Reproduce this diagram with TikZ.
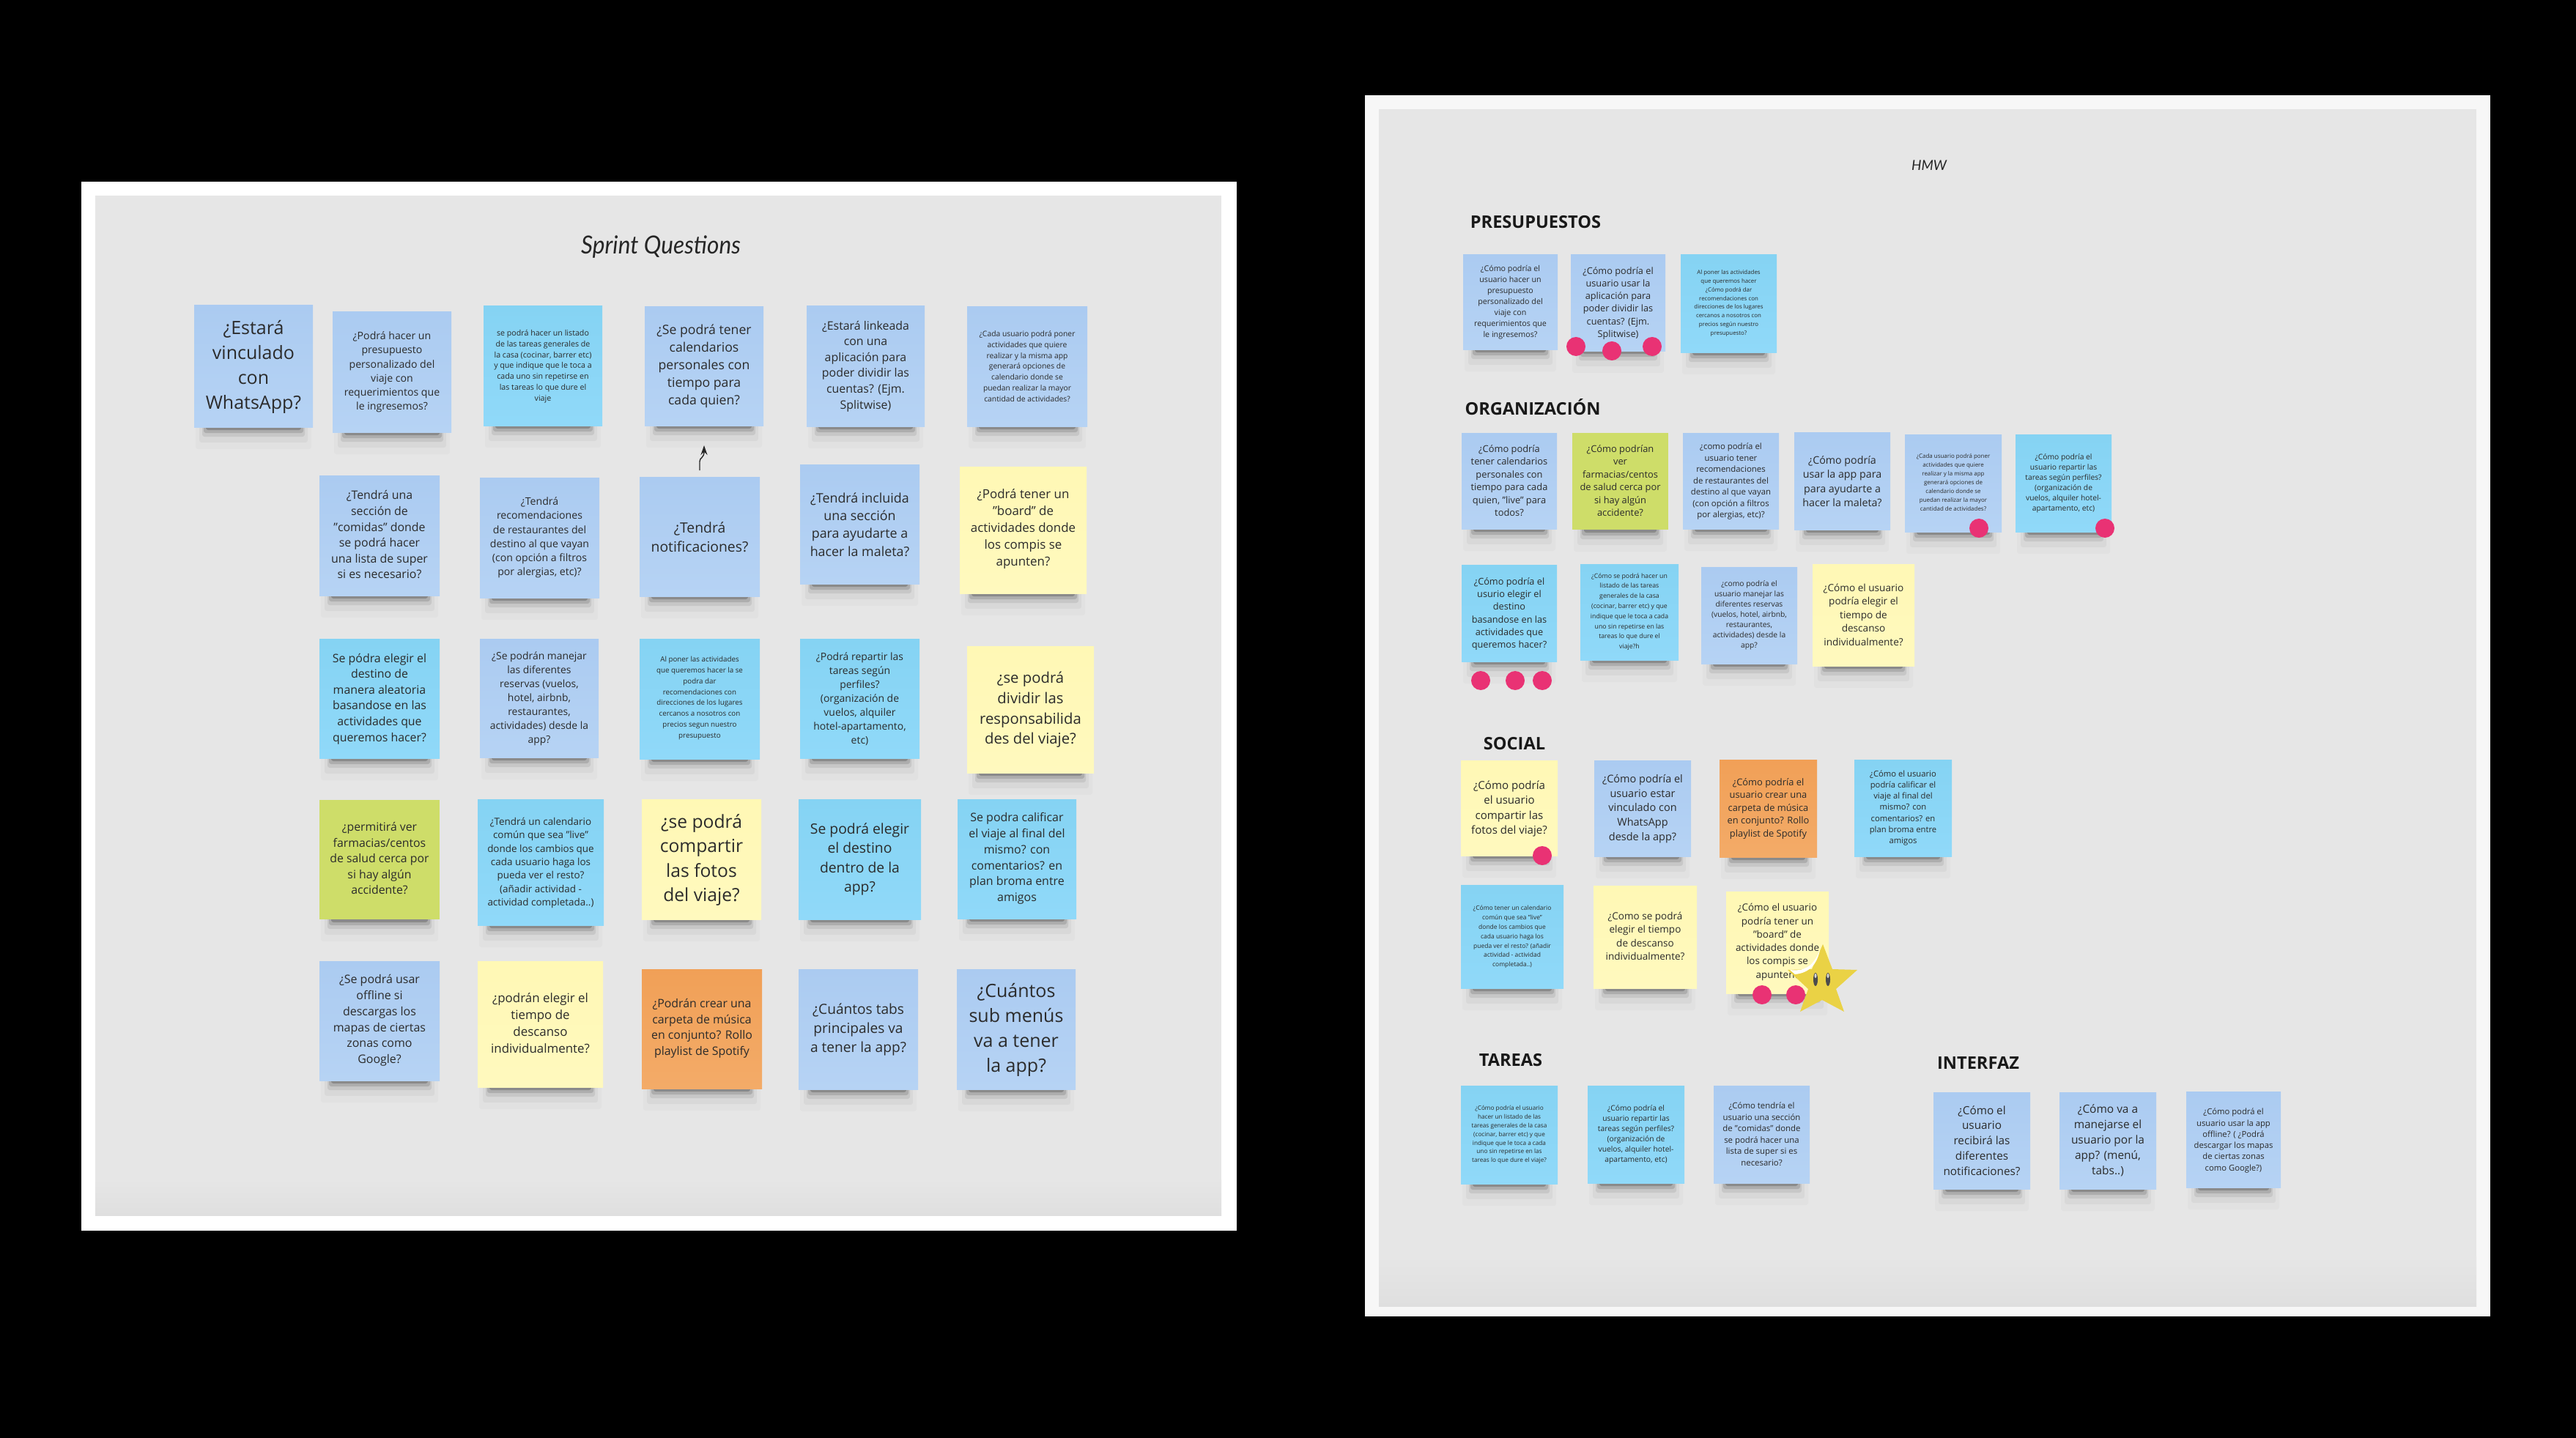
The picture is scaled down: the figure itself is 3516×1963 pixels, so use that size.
\documentclass[tikz,border=0pt]{standalone}
\usepackage{fontspec}
\setmainfont{Open Sans}
\newfontfamily\handfont{Lato}
\usetikzlibrary{arrows.meta}
\definecolor{txt}{HTML}{2B2B2B}
\definecolor{board}{HTML}{E6E6E6}
\definecolor{boardlow}{HTML}{DFDFDF}
\definecolor{dotc}{HTML}{E93274}
\definecolor{starc}{HTML}{EAD245}
\definecolor{bluetop}{HTML}{ABCBF1}
\definecolor{bluebot}{HTML}{B6D3F4}
\definecolor{cyantop}{HTML}{85D3F3}
\definecolor{cyanbot}{HTML}{90D9F9}
\definecolor{yeltop}{HTML}{FFF8B5}
\definecolor{yelbot}{HTML}{FFF9BE}
\definecolor{greenc}{HTML}{CEDD69}
\definecolor{ortop}{HTML}{F1A057}
\definecolor{orbot}{HTML}{F3AB68}
\tikzset{
  stkbase/.style={rectangle,inner sep=0pt,outer sep=0pt},
  bl/.style={stkbase,top color=bluetop,bottom color=bluebot},
  cy/.style={stkbase,top color=cyantop,bottom color=cyanbot},
  ye/.style={stkbase,top color=yeltop,bottom color=yelbot},
  gr/.style={stkbase,fill=greenc},
  or/.style={stkbase,top color=ortop,bottom color=orbot},
  stktext/.style={align=center,inner sep=0pt,text=txt},
  dotn/.style={circle,fill=dotc,minimum size=13pt,inner sep=0pt},
  heading/.style={font=\bfseries\fontsize{11.8pt}{14pt}\selectfont,text=black!90,inner sep=0pt},
}
\def\stkfs{1}
% name, x0,y0,x1,y1, colour, line pitch, text centre y, text
\newcommand{\stk}[9]{%
  \foreach \ins/\hh/\op in {2/30/0.02,7/21/0.04,11/13/0.08,13/8/0.13,16/4/0.2}{%
    \fill[black,opacity=\op,rounded corners=1.5pt] (#2+\ins,#5-3) rectangle (#4-\ins,#5+\hh);}%
  \pgfmathsetmacro\stkw{(#4-#2)*0.5}%
  \pgfmathsetmacro\stkh{(#5-#3)*0.5}%
  \pgfmathsetmacro\stkf{#7*0.5/1.36*\stkfs}%
  \pgfmathsetmacro\stkl{#7*0.5}%
  \node[#6,minimum width=\stkw pt,minimum height=\stkh pt] (#1) at ({(#2+#4)/2},{(#3+#5)/2}) {};%
  \node[stktext,font=\fontsize{\stkf pt}{\stkl pt}\selectfont] (#1-t) at ({(#2+#4)/2},#8+2) {#9};%
  \def\stkfs{1}%
}
\begin{document}
\begin{tikzpicture}[x=0.5pt,y=-0.5pt]
\useasboundingbox (0,0) rectangle (3516,1963);
\fill[black] (0,0) rectangle (3516,1963);
% boards
\fill[white] (111,248) rectangle (1688,1680);
\fill[board] (130,267) rectangle (1667,1659);
\shade[top color=board,bottom color=boardlow] (130,1610) rectangle (1667,1659);
\fill[white!97!black] (1863,130) rectangle (3399,1797);
\fill[board] (1882,149) rectangle (3380,1783);
\shade[top color=board,bottom color=boardlow] (1882,1715) rectangle (3380,1783);
% titles
\node[font=\handfont\itshape\fontsize{17pt}{20pt}\selectfont,text=black!85,inner sep=0pt,xscale=0.93] (title1) at (902,337) {Sprint Questions};
\node[font=\handfont\itshape\fontsize{9.5pt}{12pt}\selectfont,text=black!85,inner sep=0pt,xscale=1.0] (title2) at (2633,226) {HMW};
% ---- left board
\stk{a1}{265}{417}{427}{583}{bl}{34}{499}{¿Estará\\vinculado\\con\\WhatsApp?}
\stk{a2}{454}{426}{616}{590}{bl}{19.2}{506}{¿Podrá hacer un\\presupuesto\\personalizado del\\viaje con\\requerimientos que\\le ingresemos?}
\def\stkfs{0.98}\stk{a3}{660}{418}{822}{581}{cy}{14.8}{498}{se podrá hacer un listado\\de las tareas generales  de\\la casa (cocinar, barrer etc)\\y que indique que le toca a\\cada uno sin repetirse en\\las tareas lo que dure el\\viaje}
\stk{a4}{880}{419}{1042}{581}{bl}{24}{498}{¿Se podrá tener\\calendarios\\personales con\\tiempo para\\cada quien?}
\stk{a5}{1101}{418}{1262}{582}{bl}{21.6}{498}{¿Estará linkeada\\con una\\aplicación para\\poder dividir las\\cuentas? (Ejm.\\Splitwise)}
\def\stkfs{0.95}\stk{a6}{1320}{419}{1484}{582}{bl}{14.8}{498}{¿Cada usuario podrá poner\\actividades que quiere\\realizar y la misma app\\generará opciones de\\calendario donde se\\puedan realizar la mayor\\cantidad de actividades?}
\stk{b1}{436}{649}{600}{813}{bl}{21.6}{728}{¿Tendrá una\\sección de\\"comidas" donde\\se podrá hacer\\una lista de super\\si es necesario?}
\stk{b2}{655}{652}{818}{816}{bl}{19.2}{732}{¿Tendrá\\recomendaciones\\de restaurantes del\\destino al que vayan\\(con opción a filtros\\por alergias, etc)?}
\stk{b3}{873}{651}{1037}{814}{bl}{26.3}{731}{¿Tendrá\\notificaciones?}
\stk{b4}{1092}{634}{1255}{797}{bl}{24.3}{714}{¿Tendrá incluida\\una sección\\para ayudarte a\\hacer la maleta?}
\stk{b5}{1310}{637}{1483}{810}{ye}{23}{720}{¿Podrá tener un\\"board" de\\actividades donde\\los compis se\\apunten?}
\stk{c1}{436}{872}{600}{1035}{cy}{21.6}{952}{Se pódra elegir el\\destino de\\manera aleatoria\\basandose en las\\actividades que\\queremos hacer?}
\stk{c2}{655}{872}{817}{1034}{bl}{18.9}{952}{¿Se podrán manejar\\las diferentes\\reservas (vuelos,\\hotel, airbnb,\\restaurantes,\\actividades) desde la\\app?}
\def\stkfs{0.9}\stk{c3}{873}{872}{1037}{1036}{cy}{14.8}{951}{Al poner las actividades\\que queremos hacer la se\\podra dar\\recomendaciones con\\direcciones de los lugares\\cercanos a nosotros con\\precios segun nuestro\\presupuesto}
\stk{c4}{1092}{872}{1255}{1035}{cy}{19}{952}{¿Podrá repartir las\\tareas según\\perfiles?\\(organización de\\vuelos, alquiler\\hotel-apartamento,\\etc)}
\stk{c5}{1320}{882}{1493}{1055}{ye}{27.6}{967}{¿se podrá\\dividir las\\responsabilida\\des del viaje?}
\stk{d1}{436}{1092}{600}{1255}{gr}{21.5}{1170}{¿permitirá ver\\farmacias/centos\\de salud cerca por\\si hay algún\\accidente?}
\stk{d2}{652}{1091}{824}{1263}{cy}{18.3}{1176}{¿Tendrá un calendario\\común que sea "live"\\donde los cambios que\\cada usuario haga los\\pueda ver el resto?\\(añadir actividad -\\actividad completada..)}
\stk{d3}{876}{1091}{1039}{1255}{ye}{33.5}{1172}{¿se podrá\\compartir\\las fotos\\del viaje?}
\stk{d4}{1090}{1091}{1257}{1255}{cy}{26.3}{1171}{Se podrá elegir\\el destino\\dentro de la\\app?}
\stk{d5}{1307}{1091}{1469}{1254}{cy}{21.7}{1170}{Se podra calificar\\el viaje al final del\\mismo? con\\comentarios? en\\plan broma entre\\amigos}
\stk{e1}{436}{1312}{600}{1475}{bl}{21.7}{1391}{¿Se podrá usar\\offline si\\descargas los\\mapas de ciertas\\zonas como\\Google?}
\stk{e2}{652}{1312}{823}{1484}{ye}{23}{1395}{¿podrán elegir el\\tiempo de\\descanso\\individualmente?}
\stk{e3}{876}{1323}{1040}{1486}{or}{21.6}{1402}{¿Podrán crear una\\carpeta de música\\en conjunto? Rollo\\playlist de Spotify}
\stk{e4}{1090}{1323}{1253}{1487}{bl}{26}{1403}{¿Cuántos tabs\\principales va\\a tener la app?}
\stk{e5}{1306}{1323}{1468}{1487}{bl}{34}{1404}{¿Cuántos\\sub menús\\va a tener\\la app?}
% arrow
\coordinate (arrS) at (955,642);
\coordinate (arrE) at (961,608);
\draw[black!85,line width=0.7pt,-{Stealth[length=6.5pt,width=4.5pt]}] (arrS) -- (955,630) .. controls (955,624) and (961,626) .. (arrE);
% ---- right board headings
\node[heading] (hp) at (2096,303) {PRESUPUESTOS};
\node[heading] (ho) at (2092,556) {ORGANIZACIÓN};
\node[heading] (hs) at (2067,1015) {SOCIAL};
\node[heading] (ht) at (2062,1447) {TAREAS};
\node[heading] (hi) at (2700,1451) {INTERFAZ};
% presupuestos
\def\stkfs{0.97}\stk{p1}{1997}{348}{2126}{477}{bl}{15}{411}{¿Cómo podría el\\usuario hacer un\\presupuesto\\personalizado del\\viaje con\\requerimientos que\\le ingresemos?}
\stk{p2}{2144}{348}{2273}{479}{bl}{17.3}{412}{¿Cómo podría el\\usuario usar la\\aplicación para\\poder dividir las\\cuentas? (Ejm.\\Splitwise)}
\def\stkfs{0.9}\stk{p3}{2294}{348}{2425}{481}{cy}{11.9}{412}{Al poner las actividades\\que queremos hacer\\¿Cómo podrá dar\\recomendaciones con\\direcciones de los lugares\\cercanos a nosotros con\\precios según nuestro\\presupuesto?}
% organizacion
\stk{o1}{1995}{591}{2125}{722}{bl}{17.5}{654}{¿Cómo podría\\tener calendarios\\personales con\\tiempo para cada\\quien, "live" para\\todos?}
\stk{o2}{2146}{591}{2277}{723}{gr}{17.5}{654}{¿Cómo podrían\\ver\\farmacias/centos\\de salud cerca por\\si hay algún\\accidente?}
\stk{o3}{2297}{591}{2428}{722}{bl}{15.5}{655}{¿como podría el\\usuario tener\\recomendaciones\\de restaurantes del\\destino al que vayan\\(con opción a filtros\\por alergias, etc)?}
\stk{o4}{2449}{590}{2580}{723}{bl}{19.4}{655}{¿Cómo podría\\usar la app para\\para ayudarte a\\hacer la maleta?}
\def\stkfs{0.9}\stk{o5}{2600}{593}{2732}{726}{bl}{12}{657}{¿Cada usuario podrá poner\\actividades que quiere\\realizar y la misma app\\generará opciones de\\calendario donde se\\puedan realizar la mayor\\cantidad de actividades?}
\stk{o6}{2751}{593}{2882}{726}{cy}{14}{658}{¿Cómo podría el\\usuario  repartir las\\tareas según perfiles?\\(organización de\\vuelos, alquiler hotel-\\apartamento, etc)}
\stk{o7}{1995}{771}{2125}{903}{cy}{17.3}{836}{¿Cómo podría el\\usurio  elegir el\\destino\\basandose en las\\actividades que\\queremos hacer?}
\def\stkfs{0.86}\stk{o8}{2157}{770}{2291}{901}{cy}{13.8}{833}{¿Cómo se podrá hacer un\\listado de las tareas\\generales  de la casa\\(cocinar, barrer etc) y que\\indique que le toca a cada\\uno sin repetirse en las\\tareas lo que dure el\\viaje?h}
\stk{o9}{2322}{774}{2453}{906}{bl}{14}{838}{¿como podría el\\usuario manejar las\\diferentes reservas\\(vuelos, hotel, airbnb,\\restaurantes,\\actividades) desde la\\app?}
\stk{o10}{2474}{770}{2613}{909}{ye}{18.5}{837}{¿Cómo el usuario\\podría elegir el\\tiempo de\\descanso\\individualmente?}
% social
\stk{s1}{1994}{1038}{2126}{1168}{ye}{20.5}{1102}{¿Cómo podría\\el usuario\\compartir las\\fotos del viaje?}
\stk{s2}{2176}{1038}{2308}{1169}{bl}{19.7}{1102}{¿Cómo podría el\\usuario estar\\vinculado con\\WhatsApp\\desde la app?}
\stk{s3}{2347}{1037}{2480}{1170}{or}{17.5}{1102}{¿Cómo podría el\\usuario crear una\\carpeta de música\\en conjunto? Rollo\\playlist de Spotify}
\stk{s4}{2531}{1037}{2664}{1169}{cy}{15.3}{1101}{¿Cómo el usuario\\podría calificar el\\viaje al final del\\mismo? con\\comentarios? en\\plan broma entre\\amigos}
\def\stkfs{0.9}\stk{s5}{1994}{1208}{2134}{1349}{cy}{12.8}{1277}{¿Cómo tener un calendario\\común que sea "live"\\donde los cambios que\\cada usuario haga los\\pueda ver el resto? (añadir\\actividad - actividad\\completada..)}
\stk{s6}{2175}{1209}{2316}{1349}{ye}{18.4}{1276}{¿Como se podrá\\elegir el tiempo\\de descanso\\individualmente?}
\stk{s7}{2356}{1217}{2496}{1356}{ye}{18.3}{1284}{¿Cómo el usuario\\podría tener un\\"board" de\\actividades donde\\los compis se\\apunten?}
% tareas
\def\stkfs{0.94}\stk{t1}{1994}{1482}{2126}{1616}{cy}{11.9}{1547}{¿Cómo podría el usuario\\hacer un listado de las\\tareas generales  de la casa\\(cocinar, barrer etc) y que\\indique que le toca a cada\\uno sin repetirse en las\\tareas lo que dure el viaje?}
\stk{t2}{2167}{1482}{2299}{1615}{cy}{14}{1547}{¿Cómo podría el\\usuario repartir las\\tareas según perfiles?\\(organización de\\vuelos, alquiler hotel-\\apartamento, etc)}
\stk{t3}{2339}{1482}{2470}{1615}{bl}{15.5}{1546}{¿Cómo tendría el\\usuario una sección\\de "comidas" donde\\se podrá hacer una\\lista de super si es\\necesario?}
% interfaz
\stk{i1}{2639}{1491}{2771}{1623}{bl}{20.8}{1555}{¿Cómo  el\\usuario\\recibirá las\\diferentes\\notificaciones?}
\stk{i2}{2811}{1491}{2943}{1623}{bl}{21}{1555}{¿Cómo va a\\manejarse el\\usuario por la\\app? (menú,\\tabs..)}
\stk{i3}{2984}{1490}{3113}{1621}{bl}{15.3}{1555}{¿Cómo podrá el\\usuario usar  la app\\offline? ( ¿Podrá\\descargar los mapas\\de ciertas zonas\\como Google?)}
% dots
\node[dotn] (d1) at (2151,473) {};
\node[dotn] (d2) at (2200,479) {};
\node[dotn] (d3) at (2255,473) {};
\node[dotn] (d4) at (2701,721) {};
\node[dotn] (d5) at (2873,721) {};
\node[dotn] (d6) at (2021,929) {};
\node[dotn] (d7) at (2068,929) {};
\node[dotn] (d8) at (2105,929) {};
\node[dotn] (d9) at (2105,1168) {};
\node[dotn] (d10) at (2405,1358) {};
\node[dotn] (d11) at (2451,1358) {};
% star
\fill[starc,line join=round] (2488,1289) -- (2501,1323) -- (2535,1324) -- (2506,1350) -- (2517,1381) -- (2487,1365) -- (2457,1381) -- (2468,1350) -- (2440,1324) -- (2473,1323) -- cycle;
\fill[white] (2443,1324) .. controls (2462,1326) and (2474,1321) .. (2484,1297) .. controls (2480,1316) and (2470,1328) .. (2450,1330) -- cycle;
\fill[black!70] (2478,1337) ellipse (3 and 9);
\fill[black!70] (2495,1337) ellipse (3 and 9);
\fill[white!85!black] (2478,1332) ellipse (1.5 and 3);
\fill[white!85!black] (2495,1332) ellipse (1.5 and 3);
\end{tikzpicture}
\end{document}
